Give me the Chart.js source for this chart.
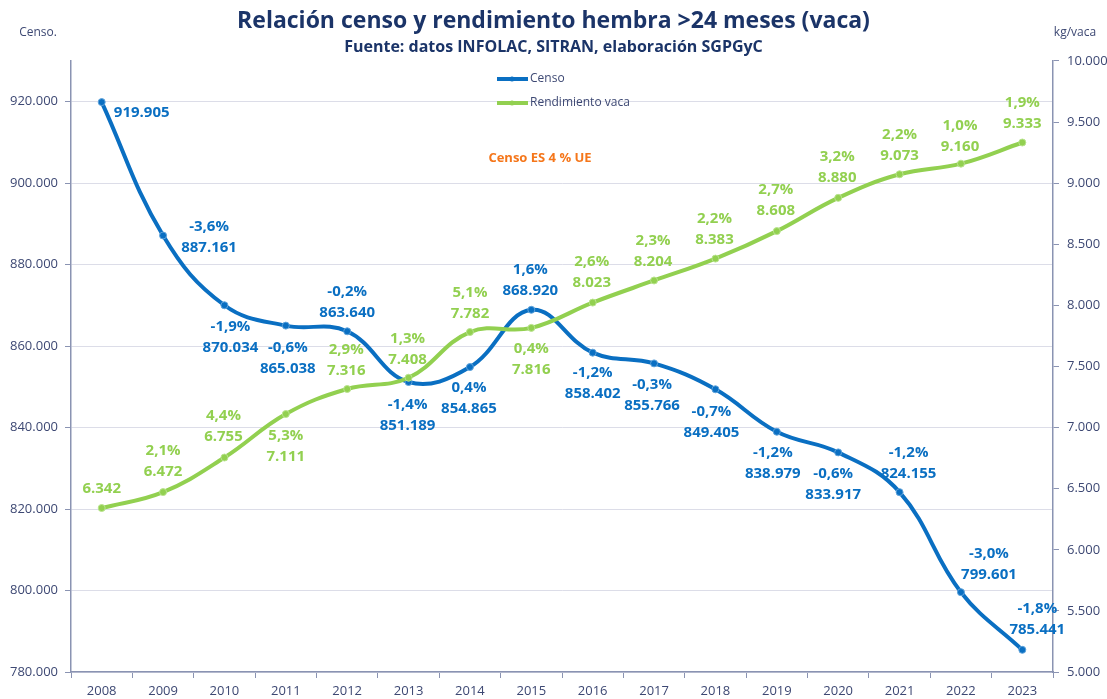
<!DOCTYPE html>
<html>
<head>
<meta charset="utf-8">
<script src="https://cdn.jsdelivr.net/npm/chart.js@4"></script>
<style>
body{margin:0;background:#fff;}
</style>
</head>
<body>
<canvas id="chart" width="1107" height="699"></canvas>
<script>
// data
const years=["2008","2009","2010","2011","2012","2013","2014","2015","2016","2017","2018","2019","2020","2021","2022","2023"];
const censo=[919905,887161,870034,865038,863640,851189,854865,868920,858402,855766,849405,838979,833917,824155,799601,785441];
const censoPct=[null,-3.6,-1.9,-0.6,-0.2,-1.4,0.4,1.6,-1.2,-0.3,-0.7,-1.2,-0.6,-1.2,-3.0,-1.8];
const rendimiento=[6342,6472,6755,7111,7316,7408,7782,7816,8023,8204,8383,8608,8880,9073,9160,9333];
const rendimientoPct=[null,2.1,4.4,5.3,2.9,1.3,5.1,0.4,2.6,2.3,2.2,2.7,3.2,2.2,1.0,1.9];
const censoTicks=[780000,800000,820000,840000,860000,880000,900000,920000];

// label placement: [dx, dy of first line] from the point
const censoLabelPos=[[40,-10],[46,-9],[6,21],[2,22],[0,-40],[-1,23],[-1,21],[-1,-40],[0,20],[-2,21],[-4,22],[-4,21],[-5,21],[9,-39],[28,-38],[15,-41]];
const rendLabelPos=[[0,-40],[0,-41],[-1,-42],[0,22],[-1,-39],[-1,-39],[0,-39],[0,21],[-1,-41],[-1,-40],[-1,-40],[-1,-41],[-1,-41],[0,-40],[-1,-38],[0,-40]];

const BLUE="#0A6FC2";
const GREEN="#92D050";
const AXIS="#8A93B2";
const TEXT="#3D4873";
const FONT="'Open Sans', 'Noto Sans', sans-serif";

function miles(v){
return String(Math.round(v)).replace(/\B(?=(\d{3})+(?!\d))/g,".");
}
function pct(v){
return v.toFixed(1).replace(".",",")+"%";
}

const extras={
id:"extras",
afterDatasetsDraw(chart){
const ctx=chart.ctx;
ctx.save();
ctx.textAlign="center";
ctx.textBaseline="middle";
ctx.font="bold 15px "+FONT;

const groups=[
{idx:1,vals:censo,pcts:censoPct,pos:censoLabelPos,color:BLUE},
{idx:0,vals:rendimiento,pcts:rendimientoPct,pos:rendLabelPos,color:GREEN}
];
groups.forEach(g=>{
const meta=chart.getDatasetMeta(g.idx);
ctx.fillStyle=g.color;
meta.data.forEach((pt,i)=>{
const x=pt.x+g.pos[i][0];
const y=pt.y+g.pos[i][1];
if(g.pcts[i]!==null){
ctx.fillText(pct(g.pcts[i]),x,y);
}
ctx.fillText(miles(g.vals[i]),x,y+21);
});
});

// axis captions
ctx.font="12px "+FONT;
ctx.fillStyle=TEXT;
ctx.fillText("Censo.",38,33);
ctx.fillText("kg/vaca",1075,33);

// legend
const items=[["Censo",BLUE,79],["Rendimiento vaca",GREEN,103]];
items.forEach(it=>{
ctx.strokeStyle=it[1];
ctx.lineWidth=4;
ctx.beginPath();
ctx.moveTo(497,it[2]);
ctx.lineTo(528,it[2]);
ctx.stroke();
ctx.fillStyle=it[1];
ctx.beginPath();
ctx.arc(512,it[2],2.5,0,Math.PI*2);
ctx.fill();
ctx.fillStyle=TEXT;
ctx.textAlign="left";
ctx.fillText(it[0],530,it[2]);
});

ctx.textAlign="center";
ctx.font="bold 13px "+FONT;
ctx.fillStyle="#F5761A";
ctx.fillText("Censo ES 4 % UE",540,158);
ctx.restore();
}
};

new Chart(
document.getElementById("chart"),
{
type:"line",
data:{
labels:years,
datasets:[
{
label:"Rendimiento vaca",
data:rendimiento,
yAxisID:"y1",
borderColor:GREEN,
backgroundColor:GREEN,
pointBackgroundColor:GREEN,
pointBorderColor:"#B9E38E",
borderWidth:4,
pointRadius:3.5,
pointBorderWidth:1,
tension:0.4,
order:0
},
{
label:"Censo",
data:censo,
yAxisID:"y",
borderColor:BLUE,
backgroundColor:BLUE,
pointBackgroundColor:BLUE,
pointBorderColor:"#5FA3DB",
borderWidth:4,
pointRadius:3.5,
pointBorderWidth:1,
tension:0.4,
order:1
}
]
},
options:{
responsive:false,
animation:false,
devicePixelRatio:1,
layout:{padding:0},
plugins:{
legend:{display:false},
tooltip:{enabled:false},
title:{
display:true,
text:"Relación censo y rendimiento hembra >24 meses (vaca)",
color:"#1B3468",
font:{family:FONT,size:23,weight:"bold",lineHeight:1.2},
padding:{top:8,bottom:0}
},
subtitle:{
display:true,
text:"Fuente: datos INFOLAC, SITRAN, elaboración SGPGyC",
color:"#1B3468",
font:{family:FONT,size:16,weight:"bold",lineHeight:1.2},
padding:{top:2,bottom:4.2}
}
},
scales:{
x:{
offset:true,
grid:{offset:true,drawOnChartArea:false,tickLength:6,tickColor:AXIS},
border:{color:AXIS,width:1.5},
ticks:{color:TEXT,font:{family:FONT,size:13},padding:5,maxRotation:0},
afterFit(s){s.height=27;}
},
y:{
position:"left",
min:780000,
max:930000,
grid:{color:"#DCDDE8",tickLength:6,tickColor:AXIS},
border:{color:AXIS,width:1.5},
afterBuildTicks(s){s.ticks=censoTicks.map(v=>({value:v}));},
ticks:{
color:TEXT,
font:{family:FONT,size:13},
padding:7,
callback:v=>miles(v)
},
afterFit(s){s.width=71;}
},
y1:{
position:"right",
min:5000,
max:10000,
grid:{drawOnChartArea:false,tickLength:6,tickColor:AXIS},
border:{color:AXIS,width:1.5},
ticks:{
stepSize:500,
color:TEXT,
font:{family:FONT,size:13},
padding:8,
callback:v=>miles(v)
},
afterFit(s){s.width=54;}
}
}
},
plugins:[extras]
}
);
</script>
</body>
</html>
